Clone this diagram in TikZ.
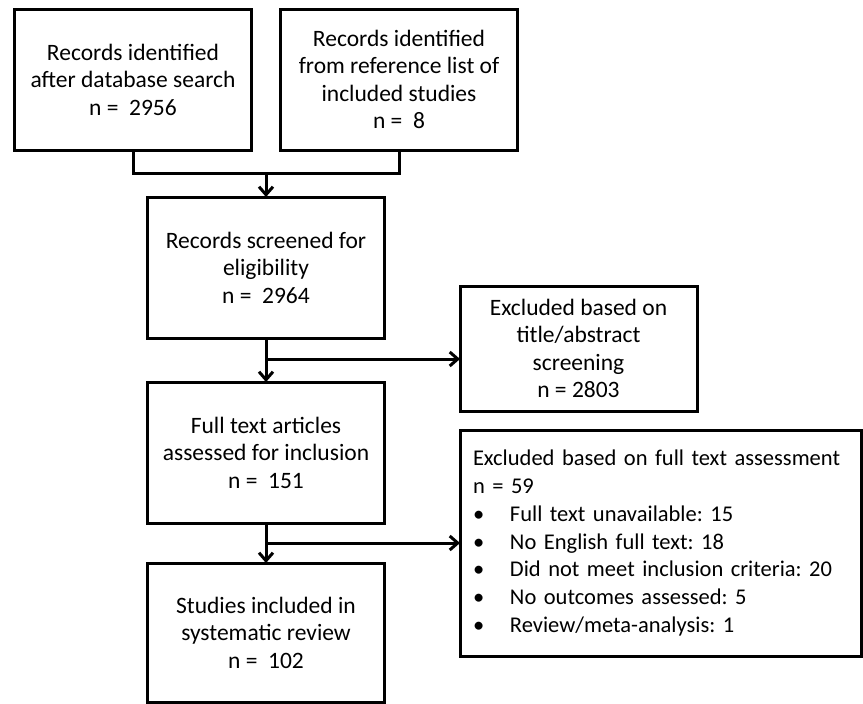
\documentclass[tikz,border=0pt]{standalone}
\usepackage{fontspec}
\setmainfont{Carlito}
\frenchspacing
\usetikzlibrary{arrows.meta,positioning,calc}
\tikzset{
  stagebox/.style={rectangle, draw=black, line width=3pt, fill=white, align=center, minimum width=237pt, minimum height=141pt, outer sep=0pt, font=\fontsize{23.5}{27.5}\selectfont},
  exclbox/.style={stagebox, minimum height=125pt},
  listbox/.style={rectangle, draw=black, line width=3pt, fill=white, align=left, text width=375pt, inner xsep=13pt, minimum height=226pt, outer sep=0pt, font=\fontsize{22.5}{27.7}\selectfont},
  link/.style={line width=3pt},
  flow/.style={link, -{Straight Barb[length=8pt, width=14pt]}},
}
\newcommand{\bitem}[1]{\makebox[37pt][l]{\textbullet}#1}

\begin{document}
\begin{tikzpicture}[x=1pt, y=1pt, node distance=40pt and 29pt]
  \useasboundingbox[fill=white] (0,0) rectangle (863,-704);
  \node[stagebox] (dbsearch) at (133,-79.5) {Records identified\\after database search\\n =\ \ 2956};
  \node[stagebox,right=29pt of dbsearch] (reflist) {Records identified\\from reference list of\\included studies\\n =\ \ 8};
  \coordinate (mid) at ($(dbsearch.south)!0.5!(reflist.south)$);
  \coordinate[below=23pt of mid] (join);
  \node[stagebox,below=24pt of join] (screened) {Records screened for\\eligibility\\n =\ \ 2964};
  \coordinate[below=21pt of screened] (split1);
  \node[stagebox,below=44pt of screened] (fulltext) {Full text articles\\assessed for inclusion\\n =\ \ 151};
  \coordinate[below=20pt of fulltext] (split2);
  \node[stagebox,below=40pt of fulltext,minimum height=139pt] (included) {Studies included in\\systematic review\\n =\ \ 102};
  \node[exclbox,right=194pt of split1,yshift=10.5pt] (extitle) {Excluded based on\\title/abstract\\screening\\n = 2803};
  \node[listbox,right=194pt of split2] (exfull) {Excluded based on full text assessment\\n = 59\\\bitem{Full text unavailable: 15}\\\bitem{No English full text: 18}\\\bitem{Did not meet inclusion criteria: 20}\\\bitem{No outcomes assessed: 5}\\\bitem{Review/meta-analysis: 1}};
  \draw[link] (dbsearch.south) |- (join) -| (reflist.south);
  \draw[flow] (join)--(screened);
  \draw[flow] (screened)--(fulltext);
  \draw[flow] (split1)--(split1 -| extitle.west);
  \draw[flow] (fulltext)--(included);
  \draw[flow] (split2)--(exfull);
\end{tikzpicture}
\end{document}
